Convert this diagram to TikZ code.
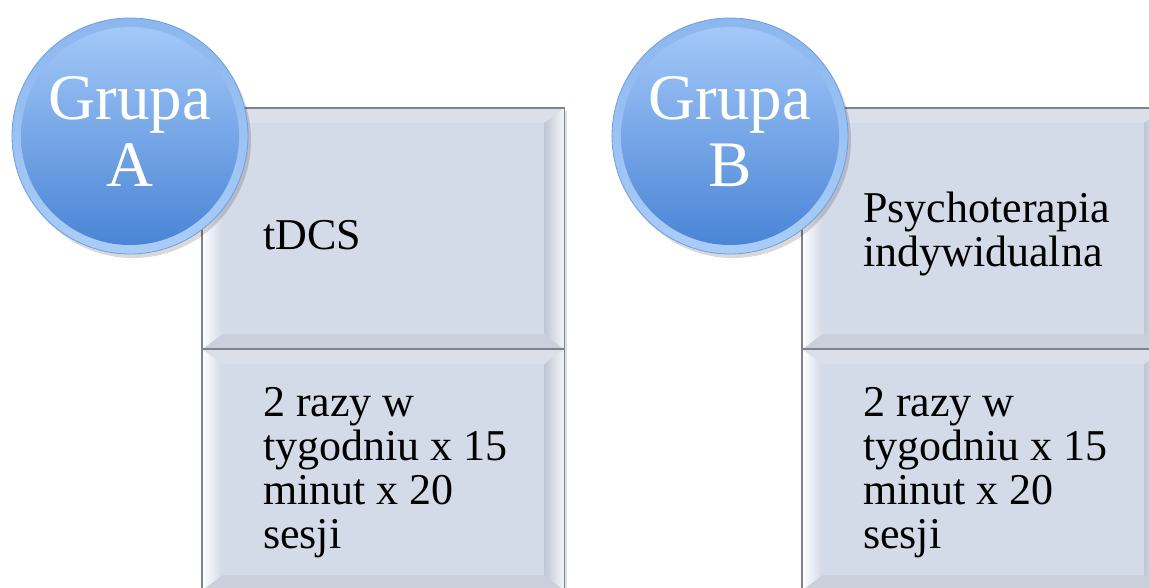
\documentclass[tikz,border=0pt]{standalone}
\usepackage{fontspec}
\setmainfont{Liberation Serif}
\begin{document}
\begin{tikzpicture}[x=1pt,y=-1pt,
  panel/.style={rectangle, inner sep=0pt, fill=faceC, minimum width=362pt, minimum height=241pt, anchor=north west},
  bevtop/.style={fill=topC},
  bevbot/.style={fill=botC},
  bevleft/.style={left color=white, right color=faceC},
  bevright/.style={left color=rightInC, right color=rightOutC},
  rim/.style={draw=edgeC, line width=0.8pt},
  grp/.style={circle, inner sep=0pt, minimum size=236pt, top color=rimTopC, bottom color=rimBotC},
  grptext/.style={text=white, inner sep=0pt, align=center, font=\fontsize{65}{67}\selectfont},
  body/.style={text=black, inner sep=0pt, align=left, font=\fontsize{44}{44}\selectfont}]
\definecolor{faceC}{HTML}{D3DAE8}
\definecolor{topC}{HTML}{DADFE9}
\definecolor{botC}{HTML}{C9CFDB}
\definecolor{rightInC}{HTML}{C0C7D3}
\definecolor{rightOutC}{HTML}{F4F6FA}
\definecolor{lineC}{HTML}{7D828C}
\definecolor{edgeC}{HTML}{6E9EE0}
\definecolor{rimTopC}{HTML}{8CB7EF}
\definecolor{rimBotC}{HTML}{A9CDF7}
\definecolor{discTopC}{HTML}{A3C8F8}
\definecolor{discBotC}{HTML}{4A85D6}

\useasboundingbox (0,0) rectangle (1149,587);
\clip (0,0) rectangle (1149,587);

% bevelled panel: faces drawn around a named rectangle node
\newcommand\bevelpanel[1]{%
  \coordinate (#1-nwi) at ([xshift=20pt,yshift=-15pt]#1.north west);
  \coordinate (#1-nei) at ([xshift=-20pt,yshift=-15pt]#1.north east);
  \coordinate (#1-sei) at ([xshift=-20pt,yshift=15pt]#1.south east);
  \coordinate (#1-swi) at ([xshift=20pt,yshift=15pt]#1.south west);
  \path[bevtop] (#1.north west) -- (#1.north east) -- (#1-nei) -- (#1-nwi) -- cycle;
  \path[bevbot] (#1.south west) -- (#1-swi) -- (#1-sei) -- (#1.south east) -- cycle;
  \path[bevleft] (#1.north west) -- (#1-nwi) -- (#1-swi) -- (#1.south west) -- cycle;
  \path[bevright] (#1.north east) -- (#1.south east) -- (#1-sei) -- (#1-nei) -- cycle;
  \draw[lineC, line width=1.2pt] (#1.north west) rectangle (#1.south east);
}

% soft shadows
\fill[black, opacity=0.12] (204,111) rectangle (567,600);
\fill[black, opacity=0.12] (804,111) rectangle (1167,600);

% group A panels
\node[panel] (a1) at (202,108) {};
\bevelpanel{a1}
\node[panel] (a2) at (202,349) {};
\bevelpanel{a2}

% group B panels
\node[panel] (b1) at (802,108) {};
\bevelpanel{b1}
\node[panel] (b2) at (802,349) {};
\bevelpanel{b2}

% panel texts
\node[body, anchor=base west] (ta1) at (263,249) {tDCS};
\node[body, anchor=north west] (ta2) at (263,387.3) {2 razy w\\tygodniu x 15\\minut x 20\\sesji};
\node[body, anchor=north west] (tb1) at (863,192) {Psychoterapia\\indywidualna};
\node[body, anchor=north west] (tb2) at (863,387.3) {2 razy w\\tygodniu x 15\\minut x 20\\sesji};

% group badges
\fill[black, opacity=0.15] (133,140) circle[radius=118pt];
\node[grp, rim] (ga) at (130,136) {};
\shade[top color=discTopC, bottom color=discBotC] (ga.center) circle[radius=109pt];
\node[grptext] (gat) at (130,131.5) {Grupa\\A};

\fill[black, opacity=0.15] (733,140) circle[radius=118pt];
\node[grp, rim] (gb) at (730,136) {};
\shade[top color=discTopC, bottom color=discBotC] (gb.center) circle[radius=109pt];
\node[grptext] (gbt) at (730,131.5) {Grupa\\B};
\end{tikzpicture}
\end{document}
